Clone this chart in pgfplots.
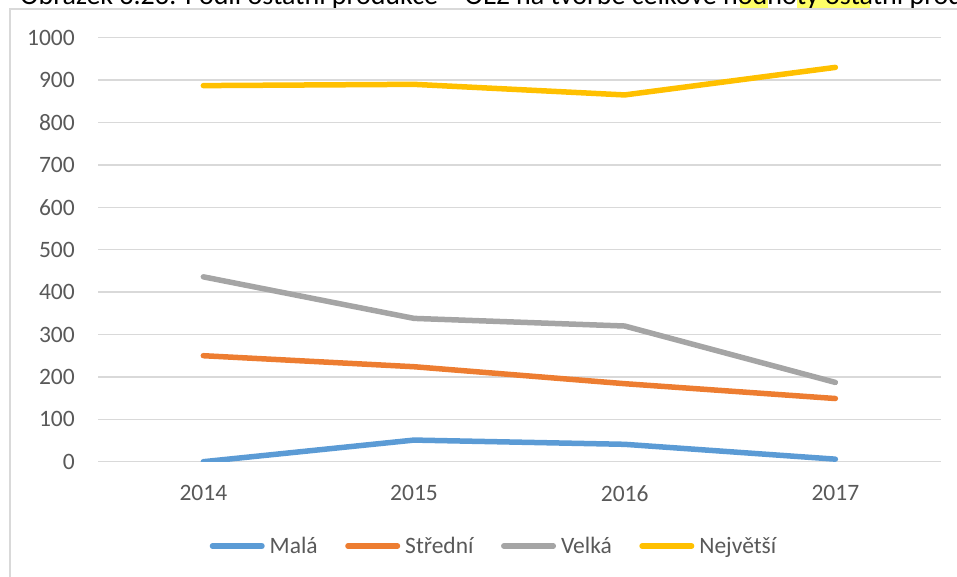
\documentclass[border=0pt]{standalone}
\usepackage{pgfplots}
\pgfplotsset{compat=1.18}
\usepackage{fontspec}
\setmainfont{Carlito}
\definecolor{cBlue}{HTML}{5B9BD5}
\definecolor{cOrange}{HTML}{ED7D31}
\definecolor{cGray}{HTML}{A5A5A5}
\definecolor{cYellow}{HTML}{FFC000}
\definecolor{cGrid}{HTML}{D9D9D9}
\definecolor{cText}{HTML}{595959}
\definecolor{cHigh}{HTML}{FFFF66}
\begin{document}
\begin{tikzpicture}
\begin{scope}
\clip (0pt,0pt) rectangle (957pt,576pt);
\fill[cHigh] (740pt,567pt) rectangle (768pt,580pt);
\fill[cHigh] (797pt,567pt) rectangle (870pt,580pt);
\node[anchor=base west, inner sep=0pt, font=\fontsize{28}{32}\selectfont, text=black] at (20pt,571pt) {Obrázek 3.23: Podíl ostatní produkce – OEZ na tvorbě celkové hodnoty ostatní produkce};
\draw[cGrid, line width=1.5pt] (10pt,-10pt) -- (10pt,567pt) -- (1000pt,567pt);
\end{scope}
\begin{axis}[
  at={(98pt,114.3pt)}, anchor=south west,
  scale only axis, width=842.7pt, height=424pt,
  xmin=-0.5, xmax=3.5, ymin=0, ymax=1000,
  axis line style={draw=none},
  major tick style={draw=none},
  ymajorgrids, major grid style={cGrid, line width=1.3pt},
  xtick={0,1,2,3}, xticklabels={2014,2015,2016,2017},
  ytick={0,100,200,300,400,500,600,700,800,900,1000},
  yticklabels={0,100,200,300,400,500,600,700,800,900,1000},
  ticklabel style={font=\fontsize{23.5}{28}\selectfont, text=cText, inner sep=0pt},
  yticklabel style={anchor=east, xshift=-23pt},
  xticklabel style={anchor=north, yshift=-23.5pt},
  legend columns=4,
  legend style={at={(axis description cs:0.4687,-0.1988)}, anchor=center,
    draw=none, fill=none, font=\fontsize{23.5}{28}\selectfont, text=cText,
    nodes={inner sep=0pt},
    /tikz/every odd column/.style={column sep=5pt},
    /tikz/every even column/.style={column sep=27.5pt}},
  legend image code/.code={\draw[#1, line width=5.5pt, line cap=round] (0pt,0pt) -- (49.5pt,0pt);},
  every axis plot/.append style={line width=5.5pt, line cap=round, line join=round},
]
\addplot[cBlue] coordinates {(0,0) (1,51) (2,41) (3,6)};
\addlegendentry{Malá}
\addplot[cOrange] coordinates {(0,250) (1,224) (2,184) (3,149)};
\addlegendentry{Střední}
\addplot[cGray] coordinates {(0,436) (1,338) (2,320) (3,187)};
\addlegendentry{Velká}
\addplot[cYellow] coordinates {(0,887) (1,890) (2,865) (3,930)};
\addlegendentry{Největší}
\end{axis}
\pgfresetboundingbox
\path (0pt,0pt) rectangle (957pt,576pt);
\end{tikzpicture}
\end{document}
